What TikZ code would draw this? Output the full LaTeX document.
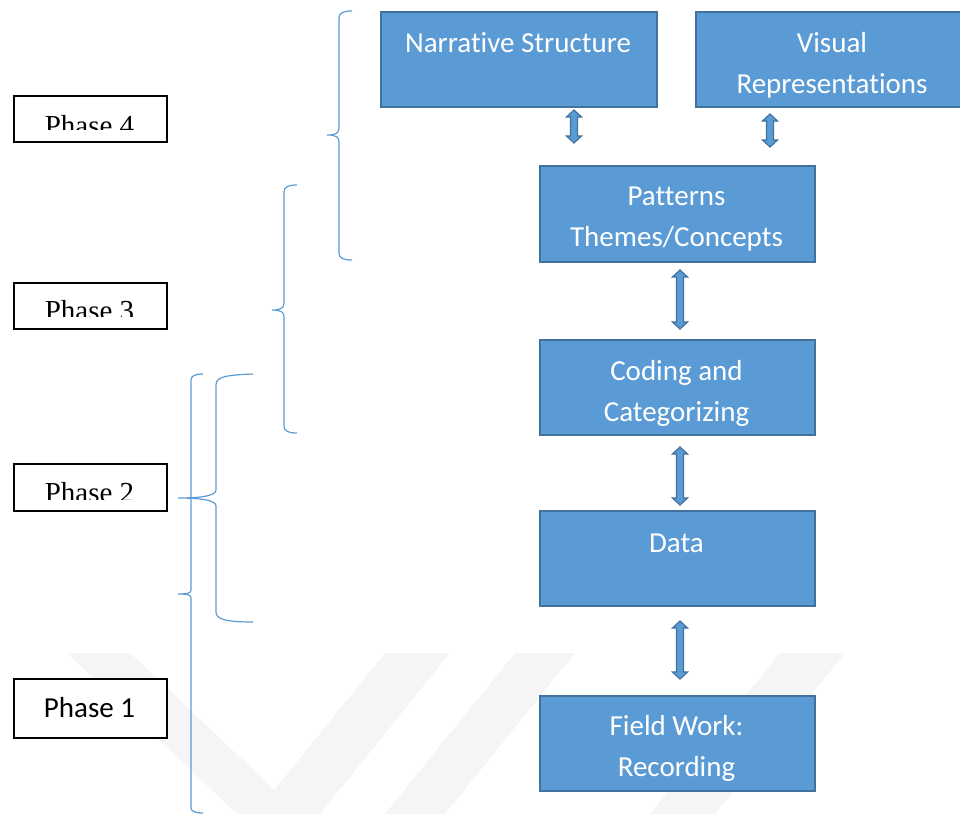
\documentclass[tikz,border=0pt]{standalone}
\usepackage{fontspec}
\setmainfont{Carlito}[Ligatures=NoCommon]
\newfontfamily\timesf{Liberation Serif}
\usetikzlibrary{calc}
\definecolor{boxfill}{HTML}{5B9BD5}
\definecolor{boxline}{HTML}{41719C}
\definecolor{braceblue}{HTML}{5B9BD5}
\newcommand\dblarrow[2]{%
  \fill[boxfill,draw=boxline,line width=1.2pt,line join=miter]
    let \p1=(#1), \p2=(#2) in
    (\x1,\y1) -- (\x1+7.5pt,\y1-7pt) -- (\x1+3.5pt,\y1-7pt) -- (\x1+3.5pt,\y2+7pt)
    -- (\x1+7.5pt,\y2+7pt) -- (\x1,\y2) -- (\x1-7.5pt,\y2+7pt) -- (\x1-3.5pt,\y2+7pt)
    -- (\x1-3.5pt,\y1-7pt) -- (\x1-7.5pt,\y1-7pt) -- cycle;}
\begin{document}
\begin{tikzpicture}[x=1pt,y=-1pt,
  bbox/.style={draw=boxline, fill=boxfill, line width=2.2pt, anchor=north west, inner sep=0pt},
  btext/.style={text=white, anchor=base, font=\fontsize{29}{35}\selectfont, inner sep=0pt},
  pbox/.style={draw=black, line width=2.4pt, fill=white, anchor=north west, inner sep=0pt, minimum width=153pt},
  ptext/.style={anchor=base, inner sep=0pt, font=\timesf\fontsize{29}{35}\selectfont},
  brace/.style={draw=braceblue, line width=1.2pt},
  wm/.style={fill=black!4, draw=none}]
\useasboundingbox (0,0) rectangle (960,814);
\clip (0,0) rectangle (960,814);
% faint watermark
\fill[wm] (67,653) -- (130,653) -- (300,814) -- (237,814) -- cycle;
\fill[wm] (385,653) -- (450,653) -- (320,814) -- (255,814) -- cycle;
\fill[wm] (515,653) -- (575,653) -- (445,814) -- (385,814) -- cycle;
\fill[wm] (780,653) -- (845,653) -- (715,814) -- (650,814) -- cycle;
% blue boxes
\node[bbox, minimum width=276pt, minimum height=95pt] (nar) at (380,11) {};
\node[bbox, minimum width=274pt, minimum height=95pt] (vis) at (695,11) {};
\node[bbox, minimum width=275pt, minimum height=96pt] (pat) at (539,165) {};
\node[bbox, minimum width=275pt, minimum height=95pt] (cod) at (539,339) {};
\node[bbox, minimum width=275pt, minimum height=95pt] (dat) at (539,510) {};
\node[bbox, minimum width=275pt, minimum height=95pt] (fie) at (539,695) {};
\node[btext] (narT) at (518,52) {Narrative Structure};
\node[btext] (visT1) at (832,52) {Visual};
\node[btext] (visT2) at (832,93) {Representations};
\node[btext] (patT1) at (676.5,205) {Patterns};
\node[btext] (patT2) at (676.5,246) {Themes/Concepts};
\node[btext] (codT1) at (676.5,380) {Coding and};
\node[btext] (codT2) at (676.5,421) {Categorizing};
\node[btext] (datT) at (676.5,552) {Data};
\node[btext] (fieT1) at (676.5,735) {Field Work:};
\node[btext] (fieT2) at (676.5,776) {Recording};
% arrows
\coordinate (a1t) at (574,110); \coordinate (a1b) at (574,143);
\coordinate (a2t) at (770,114); \coordinate (a2b) at (770,147);
\coordinate (a3t) at (680,270); \coordinate (a3b) at (680,329);
\coordinate (a4t) at (680,447); \coordinate (a4b) at (680,505);
\coordinate (a5t) at (680,621); \coordinate (a5b) at (680,679);
\dblarrow{a1t}{a1b}
\dblarrow{a2t}{a2b}
\dblarrow{a3t}{a3b}
\dblarrow{a4t}{a4b}
\dblarrow{a5t}{a5b}
% phase boxes
\node[pbox, minimum height=46pt] (p4) at (13,95) {};
\node[pbox, minimum height=46pt] (p3) at (13,282) {};
\node[pbox, minimum height=47pt] (p2) at (13,463) {};
\node[pbox, minimum height=59pt] (p1) at (13,678) {};
\begin{scope}
\clip (15,97) rectangle (164,129);
\node[ptext] (p4t) at (89.5,135) {Phase 4};
\end{scope}
\begin{scope}
\clip (15,284) rectangle (164,316);
\node[ptext] (p3t) at (89.5,320) {Phase 3};
\end{scope}
\begin{scope}
\clip (15,465) rectangle (164,499);
\node[ptext] (p2t) at (89.5,502) {Phase 2};
\end{scope}
\node[anchor=base, inner sep=0pt, font=\fontsize{29}{35}\selectfont] (p1t) at (89.5,717) {Phase 1};
% braces
\draw[brace] (352,11) .. controls (343,11) and (339,13) .. (339,18) -- (339,128)
  .. controls (339,133) and (336,135) .. (327,135)
  .. controls (336,135) and (339,137) .. (339,142) -- (339,253)
  .. controls (339,258) and (343,260) .. (352,260);
\draw[brace] (297,185) .. controls (288,185) and (284,187) .. (284,192) -- (284,303)
  .. controls (284,308) and (281,310) .. (272,310)
  .. controls (281,310) and (284,312) .. (284,317) -- (284,426)
  .. controls (284,431) and (288,433) .. (297,433);
\draw[brace] (253,374) .. controls (225,375) and (216,377) .. (216,385) -- (216,490)
  .. controls (216,496) and (200,498) .. (178,498)
  .. controls (200,498) and (216,500) .. (216,506) -- (216,612)
  .. controls (216,619) and (225,622) .. (253,622);
\draw[brace] (203,374) .. controls (195,374) and (191,376) .. (191,380) -- (191,590)
  .. controls (191,593) and (188,594) .. (178,594)
  .. controls (188,594) and (191,595) .. (191,598) -- (191,808)
  .. controls (191,811) and (195,813) .. (203,813);
\end{tikzpicture}
\end{document}
